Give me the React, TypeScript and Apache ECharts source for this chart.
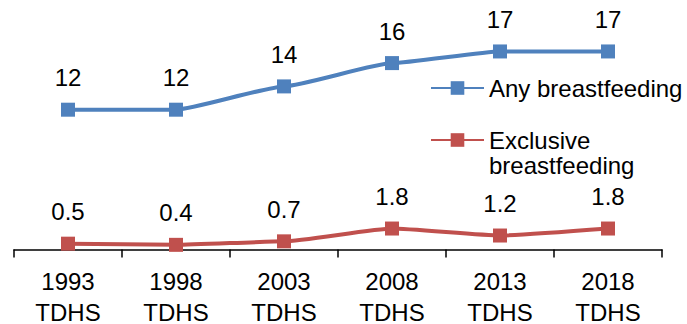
import React, { useEffect, useRef } from "react";
import * as echarts from "echarts";

const categories = ["1993\nTDHS", "1998\nTDHS", "2003\nTDHS", "2008\nTDHS", "2013\nTDHS", "2018\nTDHS"];
const anyBreastfeeding = [12, 12, 14, 16, 17, 17];
const exclusiveBreastfeeding = [0.5, 0.4, 0.7, 1.8, 1.2, 1.8];
const seriesNames = ["Any breastfeeding", "Exclusive breastfeeding"];

const FONT = "'Liberation Sans', Arial, sans-serif";
const BLUE = "#4F81BD";
const RED = "#C0504D";
const FS = 24;

export default function App() {
  const ref = useRef<HTMLDivElement>(null);
  useEffect(() => {
    if (!ref.current) return;
    const chart = echarts.init(ref.current, undefined, { renderer: "svg" });
    const label = {
      show: true,
      position: "top",
      distance: 13,
      color: "#000",
      fontSize: FS,
      fontFamily: FONT,
    };
    chart.setOption({
      animation: false,
      backgroundColor: "#fff",
      grid: {
        left: 14,
        right: 25,
        top: 16.5,
        bottom: 74.5,
        containLabel: false,
        outerBoundsMode: "none",
      },
      legend: [
        {
          data: [seriesNames[0]],
          left: 430,
          top: 75.5,
          padding: 0,
          itemWidth: 53,
          itemHeight: 17,
          itemGap: 0,
          textStyle: { color: "#000", fontSize: FS, fontFamily: FONT, lineHeight: 25 },
        },
        {
          data: [seriesNames[1]],
          left: 430,
          top: 102.5,
          padding: 0,
          itemWidth: 53,
          itemHeight: 17,
          itemGap: 0,
          formatter: () => " \nExclusive\nbreastfeeding",
          textStyle: {
            color: "#000",
            fontSize: FS,
            fontFamily: FONT,
            lineHeight: 25,
          },
        },
      ],
      xAxis: {
        type: "category",
        data: categories,
        boundaryGap: true,
        axisLine: { show: true, lineStyle: { color: "#000", width: 1.5 } },
        axisTick: { show: true, length: 8, lineStyle: { color: "#000", width: 1.5 } },
        axisLabel: {
          color: "#000",
          fontSize: FS,
          fontFamily: FONT,
          lineHeight: 31,
          margin: 16,
        },
      },
      yAxis: {
        type: "value",
        min: 0,
        max: 20,
        show: false,
        splitLine: { show: false },
      },
      series: [
        {
          name: seriesNames[0],
          type: "line",
          data: anyBreastfeeding,
          smooth: 0.15,
          smoothMonotone: "x",
          symbol: "rect",
          symbolSize: 14,
          itemStyle: { color: BLUE },
          lineStyle: { color: BLUE, width: 4 },
          label,
        },
        {
          name: seriesNames[1],
          type: "line",
          data: exclusiveBreastfeeding,
          smooth: 0.15,
          smoothMonotone: "x",
          symbol: "rect",
          symbolSize: 14,
          itemStyle: { color: RED },
          lineStyle: { color: RED, width: 4 },
          label,
        },
      ],
    });
    return () => chart.dispose();
  }, []);
  return (
    <div
      ref={ref}
      style={{ position: "fixed", left: 0, top: 0, width: 687, height: 324 }}
    />
  );
}
